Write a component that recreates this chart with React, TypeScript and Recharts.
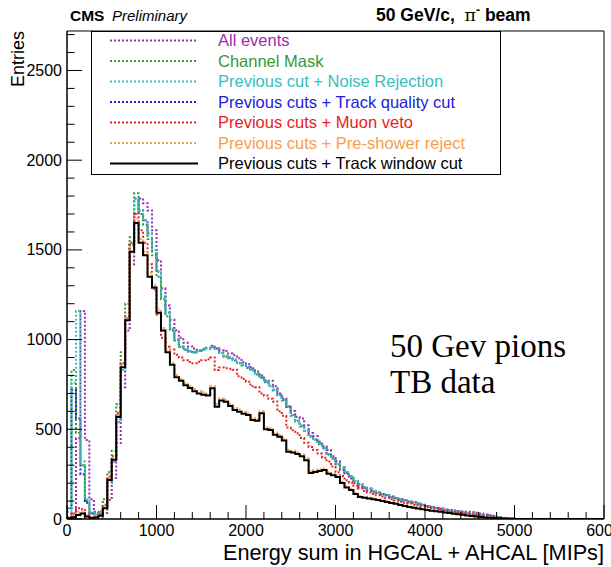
import { LineChart, Line, XAxis, YAxis, ReferenceArea, Legend } from 'recharts';

// 50 MIP wide bins starting at 0; bins above 5000 MIPs are empty
const BIN_WIDTH = 50;
const X_MAX = 6000;
const Y_MAX = 2720;

const allEvents = [
  0, 30, 450, 1160, 440, 110, 40, 25, 33, 106,
  228, 423, 735, 1050, 1420, 1700, 1787, 1760, 1720, 1609,
  1442, 1286, 1190, 1110, 1052, 1010, 982, 962, 950, 941,
  946, 952, 966, 950, 941, 936, 922, 913, 896, 874,
  862, 840, 822, 800, 774, 770, 742, 700, 672, 624,
  602, 568, 560, 522, 479, 462, 430, 406, 384, 350,
  322, 273, 252, 226, 200, 178, 171, 160, 152, 145,
  140, 132, 125, 117, 110, 104, 98, 95, 88, 80,
  72, 67, 62, 57, 53, 50, 47, 44, 42, 40,
  38, 35, 30, 25, 22, 18, 10, 6, 3, 1,
];

const channelMask = [
  60, 830, 480, 300, 100, 35, 30, 40, 110, 260,
  380, 640, 930, 1200, 1570, 1815, 1700, 1640, 1560, 1470,
  1350, 1225, 1130, 1050, 995, 958, 944, 932, 928, 936,
  945, 955, 962, 950, 928, 904, 896, 884, 868, 856,
  842, 828, 806, 786, 762, 744, 716, 694, 660, 630,
  575, 548, 515, 492, 458, 445, 416, 398, 358, 338,
  305, 288, 258, 240, 210, 195, 176, 170, 156, 150,
  138, 134, 120, 116, 106, 103, 94, 91, 83, 79,
  70, 68, 60, 58, 50, 48, 42, 41, 35, 34,
  28, 26, 21, 20, 15, 13, 8, 6, 3, 2,
];

const noiseRejection = [
  40, 760, 1160, 320, 110, 40, 25, 30, 70, 200,
  320, 540, 830, 1120, 1530, 1787, 1720, 1665, 1592, 1500,
  1380, 1240, 1150, 1060, 1000, 962, 946, 935, 930, 938,
  942, 950, 958, 952, 925, 906, 900, 888, 870, 860,
  846, 830, 810, 790, 766, 742, 720, 690, 664, 624,
  580, 545, 520, 490, 462, 440, 420, 395, 362, 335,
  310, 285, 262, 238, 212, 192, 178, 168, 158, 148,
  140, 132, 122, 115, 108, 102, 96, 90, 85, 78,
  72, 67, 62, 57, 52, 47, 43, 40, 36, 33,
  29, 25, 22, 19, 16, 12, 9, 6, 3, 2,
];

const trackQuality = [
  60, 720, 560, 250, 90, 30, 25, 30, 70, 200,
  320, 540, 830, 1120, 1530, 1787, 1720, 1665, 1592, 1500,
  1380, 1240, 1150, 1060, 1000, 962, 946, 935, 930, 938,
  942, 950, 958, 952, 925, 906, 900, 888, 870, 860,
  846, 830, 810, 790, 766, 742, 720, 690, 664, 624,
  580, 545, 520, 490, 462, 440, 420, 395, 362, 335,
  310, 285, 262, 238, 212, 192, 178, 168, 158, 148,
  140, 132, 122, 115, 108, 102, 96, 90, 85, 78,
  72, 67, 62, 57, 52, 47, 43, 40, 36, 33,
  29, 25, 22, 19, 16, 12, 9, 6, 3, 2,
];

const muonVeto = [
  10, 30, 60, 55, 25, 10, 12, 25, 80, 235,
  350, 590, 870, 1130, 1540, 1703, 1610, 1540, 1420, 1280,
  1140, 1010, 960, 945, 915, 900, 885, 875, 868, 876,
  885, 890, 900, 830, 845, 840, 838, 832, 795, 780,
  765, 740, 735, 700, 688, 670, 655, 600, 575, 510,
  495, 478, 452, 425, 402, 385, 365, 342, 320, 292,
  260, 240, 216, 202, 186, 170, 156, 148, 140, 132,
  125, 118, 110, 103, 96, 90, 86, 80, 76, 71,
  66, 62, 58, 52, 46, 40, 38, 35, 33, 30,
  26, 23, 20, 17, 14, 10, 7, 5, 3, 2,
];

const preShower = [
  8, 20, 40, 40, 20, 8, 10, 22, 75, 228,
  342, 580, 862, 1122, 1515, 1675, 1560, 1490, 1372, 1305,
  1168, 1064, 945, 872, 803, 782, 758, 742, 725, 714,
  706, 700, 742, 640, 672, 664, 643, 618, 610, 598,
  590, 564, 558, 600, 512, 507, 482, 470, 448, 386,
  380, 372, 360, 338, 265, 272, 277, 282, 261, 252,
  242, 208, 183, 168, 146, 128, 124, 119, 115, 110,
  105, 99, 93, 88, 81, 76, 70, 65, 60, 56,
  52, 48, 45, 41, 38, 34, 30, 27, 24, 21,
  18, 15, 12, 10, 8, 6, 4, 3, 2, 1,
];

const trackWindow = [
  5, 10, 22, 30, 14, 6, 8, 18, 60, 217,
  330, 568, 846, 1108, 1490, 1650, 1540, 1470, 1350, 1290,
  1150, 1050, 930, 860, 790, 770, 745, 730, 712, 700,
  692, 688, 729, 625, 660, 653, 630, 607, 598, 586,
  579, 552, 548, 590, 500, 496, 470, 458, 438, 375,
  370, 362, 350, 328, 256, 262, 268, 273, 252, 244,
  234, 200, 176, 161, 140, 122, 119, 114, 110, 106,
  101, 95, 89, 85, 78, 73, 67, 63, 58, 54,
  50, 46, 43, 40, 36, 33, 29, 26, 23, 20,
  17, 14, 11, 9, 7, 5, 4, 3, 2, 1,
];

const xMajorLabels = [0, 1000, 2000, 3000, 4000, 5000, 6000];
const yMajorLabels = [0, 500, 1000, 1500, 2000, 2500];

const FONT = '"Liberation Sans", Arial, Helvetica, sans-serif';
const SERIF = '"Liberation Serif", "Times New Roman", serif';
const DOTS = '2 2';

const CHART_H = 567;
const MARGIN_TOP = 31;
const X_AXIS_H = 48;
const PLOT_H = CHART_H - MARGIN_TOP - X_AXIS_H;

// total vertical travel of a step line, in entries
const verticalTravel = (values: number[]) =>
  values.reduce((sum, v, i) => (i === 0 ? 0 : sum + Math.abs(v - values[i - 1])), 0);

// the track-quality histogram sits exactly under the noise-rejection one above the
// low-energy spike; shift its dot pattern so both dotted lines share the same phase
const blueDashOffset = ((verticalTravel(noiseRejection) - verticalTravel(trackQuality)) * PLOT_H) / Y_MAX;

const series = [
  { key: 'allEvents', label: 'All events', color: '#9b2bb0', values: allEvents, dash: DOTS, offset: 0 },
  { key: 'channelMask', label: 'Channel Mask', color: '#35993a', values: channelMask, dash: DOTS, offset: 0 },
  { key: 'noiseRejection', label: 'Previous cut + Noise Rejection', color: '#35c0c0', values: noiseRejection, dash: DOTS, offset: 0 },
  { key: 'trackQuality', label: 'Previous cuts + Track quality cut', color: '#2020dc', values: trackQuality, dash: DOTS, offset: blueDashOffset },
  { key: 'muonVeto', label: 'Previous cuts + Muon veto', color: '#e82222', values: muonVeto, dash: DOTS, offset: 0 },
  { key: 'preShower', label: 'Previous cuts + Pre-shower reject', color: '#f5a04e', values: preShower, dash: DOTS, offset: 0 },
  { key: 'trackWindow', label: 'Previous cuts + Track window cut', color: '#000000', values: trackWindow, dash: undefined, offset: 0 },
];

// blue goes under cyan, black on top
const drawOrder = ['allEvents', 'trackQuality', 'channelMask', 'noiseRejection', 'muonVeto', 'preShower', 'trackWindow'];

const rows = Array.from({ length: X_MAX / BIN_WIDTH + 1 }, (_, i) => {
  const row: Record<string, number> = { x: i * BIN_WIDTH };
  series.forEach((s) => {
    row[s.key] = s.values[i] ?? 0;
  });
  return row;
});

const xTicks = Array.from({ length: X_MAX / 200 + 1 }, (_, i) => i * 200);
const yTicks = Array.from({ length: 28 }, (_, i) => i * 100);

function XTick({ x, y, payload }: any) {
  const major = xMajorLabels.includes(payload.value);
  return (
    <g>
      <line x1={x} x2={x} y1={y} y2={y - (major ? 14 : 7)} stroke="#000" strokeWidth={1} />
      {major && (
        <text x={x} y={y + 17} textAnchor="middle" fontSize={16} fontFamily={FONT} fill="#000">
          {payload.value}
        </text>
      )}
    </g>
  );
}

function YTick({ x, y, payload }: any) {
  const major = yMajorLabels.includes(payload.value);
  return (
    <g>
      <line x1={x} x2={x + (major ? 15 : 7.5)} y1={y} y2={y} stroke="#000" strokeWidth={1} />
      {major && (
        <text x={x - 5} y={y + 5.5} textAnchor="end" fontSize={16} fontFamily={FONT} fill="#000">
          {payload.value}
        </text>
      )}
    </g>
  );
}

function LegendBox() {
  return (
    <svg width={410} height={144} style={{ display: 'block' }}>
      <rect x={0.5} y={0.5} width={409} height={143} fill="#fff" stroke="#000" strokeWidth={1} />
      {series.map((s, i) => {
        const cy = 9.5 + i * 20.5;
        return (
          <g key={s.key}>
            <line x1={19} x2={107} y1={cy} y2={cy} stroke={s.color} strokeWidth={2} strokeDasharray={s.dash} />
            <text x={127} y={cy + 5.5} fontSize={16.5} fontFamily={FONT} fill={s.color}>
              {s.label}
            </text>
          </g>
        );
      })}
    </svg>
  );
}

export default function App() {
  return (
    <div style={{ position: 'absolute', left: 0, top: 0, width: 611, height: CHART_H, background: '#fff' }}>
      <LineChart width={611} height={CHART_H} data={rows} margin={{ top: MARGIN_TOP, right: 7, bottom: 0, left: 7 }}>
        <XAxis
          dataKey="x"
          type="number"
          domain={[0, X_MAX]}
          ticks={xTicks}
          interval={0}
          tickSize={0}
          tickMargin={0}
          tickLine={false}
          axisLine={{ stroke: '#000' }}
          height={X_AXIS_H}
          tick={(props: any) => <XTick {...props} />}
          allowDataOverflow
        />
        <YAxis
          type="number"
          domain={[0, Y_MAX]}
          ticks={yTicks}
          interval={0}
          tickSize={0}
          tickMargin={0}
          tickLine={false}
          axisLine={{ stroke: '#000' }}
          width={60}
          tick={(props: any) => <YTick {...props} />}
          allowDataOverflow
        />
        <ReferenceArea x1={0} x2={X_MAX} y1={0} y2={Y_MAX} fill="none" stroke="#000" strokeWidth={1} />
        <Legend
          layout="horizontal"
          verticalAlign="middle"
          align="center"
          wrapperStyle={{ left: 91, top: 31, width: 410, height: 144 }}
          content={() => <LegendBox />}
        />
        {drawOrder.map((key) => {
          const s = series.find((d) => d.key === key)!;
          return (
            <Line
              key={s.key}
              type="stepAfter"
              dataKey={s.key}
              name={s.label}
              stroke={s.color}
              strokeWidth={2}
              strokeDasharray={s.dash}
              strokeDashoffset={s.offset}
              dot={false}
              activeDot={false}
              isAnimationActive={false}
            />
          );
        })}
      </LineChart>
      <svg width={611} height={CHART_H} style={{ position: 'absolute', left: 0, top: 0, pointerEvents: 'none' }}>
        <text x={70} y={21} fontSize={15.5} fontFamily={FONT} fontWeight="bold">CMS</text>
        <text x={112} y={21} fontSize={15} fontFamily={FONT} fontStyle="italic">Preliminary</text>
        <text x={376} y={21} fontSize={17.5} fontFamily={FONT} fontWeight="bold">
          50 GeV/c,{'\u00a0\u00a0'}
          <tspan fontFamily='"DejaVu Serif", serif' fontWeight="normal">π</tspan>
          <tspan fontSize={12} dy={-7}>-</tspan>
          <tspan dy={7}> beam</tspan>
        </text>
        <text transform="translate(24, 31) rotate(-90)" textAnchor="end" fontSize={18} fontFamily={FONT}>
          Entries
        </text>
        <text x={604} y={560} textAnchor="end" fontSize={21.7} fontFamily={FONT}>
          Energy sum in HGCAL + AHCAL [MIPs]
        </text>
        <text x={390} y={357} fontSize={33} fontFamily={SERIF}>50 Gev pions</text>
        <text x={390} y={393} fontSize={33} fontFamily={SERIF}>TB data</text>
      </svg>
    </div>
  );
}
